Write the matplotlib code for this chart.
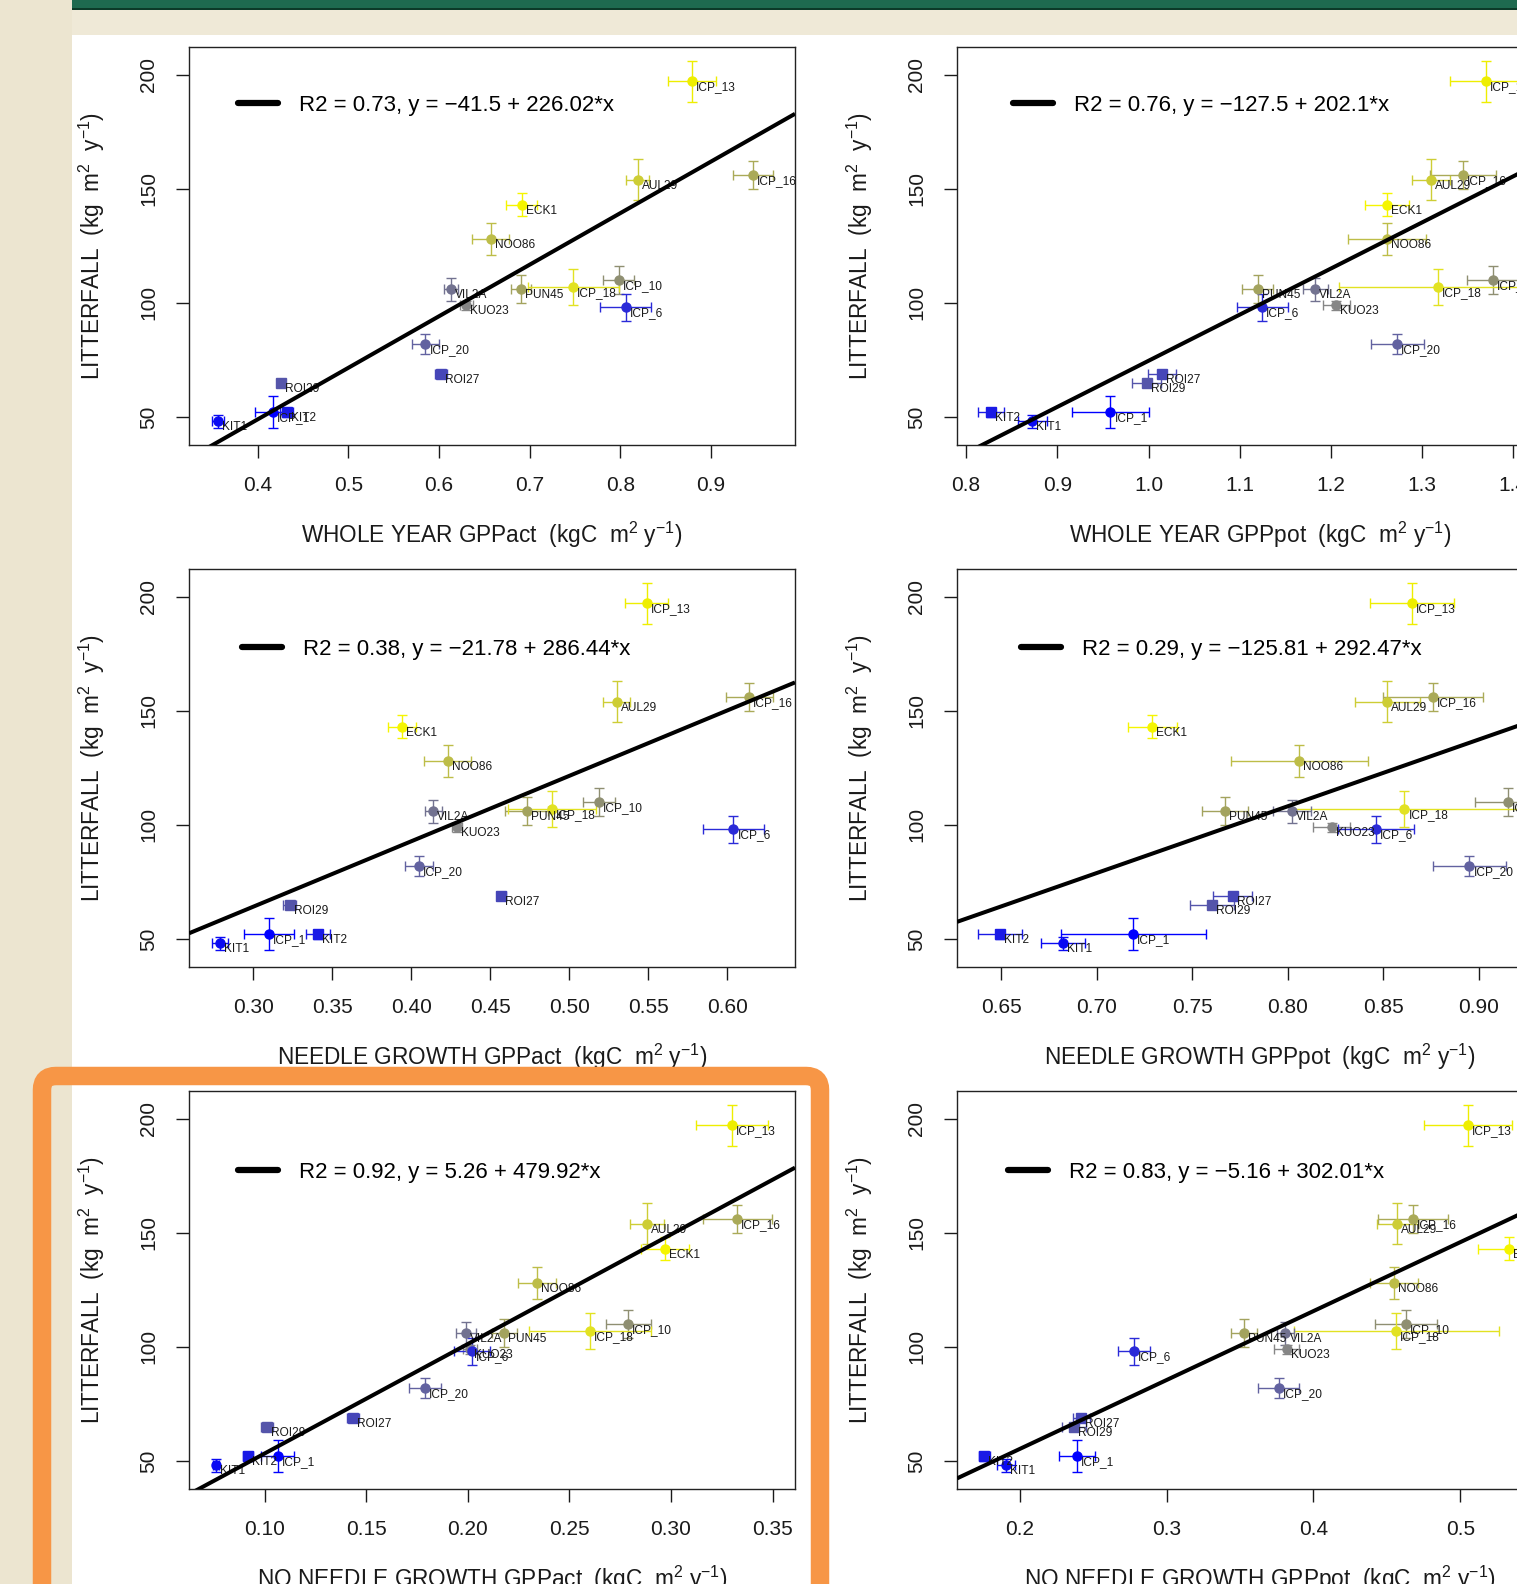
import numpy as np
import matplotlib
matplotlib.use("Agg")
import matplotlib.pyplot as plt
from matplotlib.patches import Rectangle, FancyBboxPatch
from matplotlib.lines import Line2D
from matplotlib.transforms import IdentityTransform

plt.rcParams['font.family'] = ['Liberation Sans', 'DejaVu Sans']
plt.rcParams['mathtext.fontset'] = 'custom'
plt.rcParams['mathtext.rm'] = 'Liberation Sans'
plt.rcParams['mathtext.it'] = 'Liberation Sans:italic'
plt.rcParams['mathtext.bf'] = 'Liberation Sans:bold'

# sites and litterfall (same in every panel)
sites = ['ICP_13', 'AUL29', 'ICP_16', 'ECK1', 'NOO86', 'ICP_10', 'PUN45', 'ICP_18', 'VIL2A',
         'KUO23', 'ICP_6', 'ICP_20', 'ROI29', 'ROI27', 'ICP_1', 'KIT2', 'KIT1']
litter = [197, 154, 156, 143, 128, 110, 106, 107, 106, 99, 98, 82, 65, 69, 52, 52, 48]
litter_err = [9, 9, 6, 5, 7, 6, 6, 8, 5, 2, 6, 4.5, 1, 1.5, 7, 2, 3]
site_colors = ['#EEEE00', '#CDCD35', '#AAAA58', '#F5F500', '#BDBD48', '#8F8F72', '#A3A35E',
               '#E2E222', '#727290', '#868686', '#2A2AD8', '#6262A0', '#5555AA', '#4646B8',
               '#0000FF', '#1A1AE6', '#0A0AF2']
site_markers = ['o', 'o', 'o', 'o', 'o', 'o', 'o', 'o', 'o', 'o', 'o', 'o', 's', 's', 'o', 's', 'o']

# x values per panel
x_whole_act = [0.879, 0.819, 0.946, 0.691, 0.657, 0.798, 0.690, 0.748, 0.613, 0.630, 0.806, 0.585,
               0.426, 0.602, 0.417, 0.432, 0.356]
xe_whole_act = [0.026, 0.013, 0.022, 0.0166, 0.0205, 0.017, 0.011, 0.050, 0.0078, 0.007, 0.028, 0.015,
                0.002, 0.0065, 0.0196, 0.0076, 0.0065]
x_whole_pot = [1.370, 1.310, 1.3445, 1.2614, 1.2614, 1.3775, 1.120, 1.3175, 1.183, 1.206, 1.1248, 1.2727,
               0.998, 1.0147, 0.9583, 0.8273, 0.8724]
xe_whole_pot = [0.039, 0.021, 0.036, 0.024, 0.043, 0.028, 0.017, 0.109, 0.014, 0.015, 0.028, 0.029,
                0.016, 0.015, 0.042, 0.014, 0.016]
x_needle_act = [0.549, 0.530, 0.614, 0.394, 0.423, 0.519, 0.473, 0.489, 0.414, 0.429, 0.604, 0.405,
                0.323, 0.457, 0.310, 0.341, 0.279]
xe_needle_act = [0.0135, 0.0085, 0.015, 0.009, 0.015, 0.010, 0.0135, 0.028, 0.0055, 0.003, 0.0195, 0.009,
                 0.004, 0.003, 0.016, 0.0075, 0.005]
x_needle_pot = [0.865, 0.852, 0.876, 0.729, 0.806, 0.915, 0.767, 0.861, 0.802, 0.823, 0.846, 0.895,
                0.760, 0.771, 0.719, 0.649, 0.682]
xe_needle_pot = [0.022, 0.017, 0.026, 0.013, 0.036, 0.017, 0.012, 0.060, 0.010, 0.0097, 0.020, 0.019,
                 0.0115, 0.010, 0.038, 0.0115, 0.0115]
x_noneedle_act = [0.330, 0.288, 0.3325, 0.297, 0.234, 0.279, 0.218, 0.260, 0.199, 0.201, 0.202, 0.179,
                  0.101, 0.1435, 0.1064, 0.092, 0.076]
xe_noneedle_act = [0.0175, 0.0083, 0.017, 0.012, 0.0093, 0.011, 0.0063, 0.030, 0.005, 0.0035, 0.009, 0.0078,
                   0.003, 0.003, 0.008, 0.0025, 0.0015]
x_noneedle_pot = [0.505, 0.457, 0.468, 0.533, 0.455, 0.463, 0.3526, 0.4565, 0.381, 0.382, 0.278, 0.3765,
                  0.237, 0.242, 0.239, 0.176, 0.1905]
xe_noneedle_pot = [0.030, 0.014, 0.024, 0.021, 0.0165, 0.021, 0.009, 0.070, 0.006, 0.0085, 0.011, 0.014,
                   0.008, 0.006, 0.0125, 0.004, 0.006]

# regressions
r2 = ['0.73', '0.76', '0.38', '0.29', '0.92', '0.83']
intercepts = [-41.5, -127.5, -21.78, -125.81, 5.26, -5.16]
slopes = [226.02, 202.1, 286.44, 292.47, 479.92, 302.01]

xlabels = ['WHOLE YEAR GPPact', 'WHOLE YEAR GPPpot', 'NEEDLE GROWTH GPPact',
           'NEEDLE GROWTH GPPpot', 'NO NEEDLE GROWTH GPPact', 'NO NEEDLE GROWTH GPPpot']
xticks = [[0.4, 0.5, 0.6, 0.7, 0.8, 0.9],
          [0.8, 0.9, 1.0, 1.1, 1.2, 1.3, 1.4],
          [0.30, 0.35, 0.40, 0.45, 0.50, 0.55, 0.60],
          [0.65, 0.70, 0.75, 0.80, 0.85, 0.90],
          [0.10, 0.15, 0.20, 0.25, 0.30, 0.35],
          [0.2, 0.3, 0.4, 0.5]]
xfmt = ['{:.1f}', '{:.1f}', '{:.2f}', '{:.2f}', '{:.2f}', '{:.1f}']
xlims = [(0.3244, 0.9925), (0.790, 1.4545), (0.2592, 0.643),
         (0.6267, 0.944), (0.0628, 0.361), (0.1573, 0.570)]
xs_all = [x_whole_act, x_whole_pot, x_needle_act, x_needle_pot, x_noneedle_act, x_noneedle_pot]
xe_all = [xe_whole_act, xe_whole_pot, xe_needle_act, xe_needle_pot, xe_noneedle_act, xe_noneedle_pot]
leg_pos = [(0.081, 0.854), (0.093, 0.854), (0.088, 0.798), (0.106, 0.798), (0.081, 0.795), (0.084, 0.795)]

W, H = 1517, 1584
fig = plt.figure(figsize=(W / 100, H / 100), dpi=100)
fig.patch.set_facecolor('#EFE9D7')


def px_rect(x0, y0, x1, y1, color, z=-10):
    r = Rectangle((x0 / W, 1 - y1 / H), (x1 - x0) / W, (y1 - y0) / H,
                  transform=fig.transFigure, facecolor=color, edgecolor='none', zorder=z)
    fig.add_artist(r)


# slide background
px_rect(0, 0, 72, H, '#ECE5D0')
px_rect(72, 0, W, 10, '#1E6A4F')
px_rect(72, 8, W, 10, '#0C3A28')
px_rect(72, 35, W, H, 'white')

col_x = [189, 957]
row_y = [47, 569, 1091]
aw, ah = 606, 398

for k in range(6):
    x0 = col_x[k % 2]
    y0 = row_y[k // 2]
    ax = fig.add_axes([x0 / W, 1 - (y0 + ah) / H, aw / W, ah / H])
    ax.set_facecolor('white')
    xs = xs_all[k]
    xe = xe_all[k]
    for i in range(len(sites)):
        ax.errorbar(xs[i], litter[i], xerr=xe[i], yerr=litter_err[i], fmt=site_markers[i],
                    color=site_colors[i], ms=6.5, capsize=3.3, elinewidth=1.0, capthick=1.0,
                    zorder=2)
        ax.annotate(sites[i], (xs[i], litter[i]), xytext=(4, -6), textcoords='offset pixels',
                    fontsize=8.6, ha='left', va='center', color='#1a1a1a', zorder=3, clip_on=True)
    ax.set_xlim(*xlims[k])
    ax.set_ylim(37.7, 212.1)
    lx = np.array(xlims[k])
    ax.plot(lx, intercepts[k] + slopes[k] * lx, color='black', lw=2.9, zorder=4,
            solid_capstyle='butt')

    def fnum(v):
        return ('{:g}'.format(v)).replace('-', '\u2212')

    label = 'R2 = {}, y = {} + {}*x'.format(r2[k], fnum(intercepts[k]), fnum(slopes[k]))
    handle = Line2D([], [], color='black', lw=4.5, solid_capstyle='round')
    ax.legend([handle], [label], loc='center left', bbox_to_anchor=leg_pos[k], frameon=False,
              fontsize=16, handlelength=1.8, handletextpad=0.95, borderpad=0, borderaxespad=0)

    ax.set_xticks(xticks[k])
    ax.set_xticklabels([xfmt[k].format(t) for t in xticks[k]])
    ax.set_yticks([50, 100, 150, 200])
    ax.set_yticklabels(['50', '100', '150', '200'], rotation=90, va='center')
    ax.tick_params(direction='out', length=9.4, width=1.0, labelsize=15, colors='#1a1a1a')
    ax.tick_params(axis='x', pad=13)
    ax.tick_params(axis='y', pad=13)
    for s in ax.spines.values():
        s.set_linewidth(1.0)
        s.set_color('#222222')

    ax.set_xlabel(xlabels[k] + r'  (kgC  m$^2$ y$^{-1}$)', fontsize=16.3, color='#1a1a1a')
    ax.xaxis.set_label_coords(0.5, -0.225)
    ax.xaxis.label.set_va('center')
    ax.set_ylabel(r'LITTERFALL  (kg  m$^2$  y$^{-1}$)', fontsize=16.3, color='#1a1a1a')
    ax.yaxis.set_label_coords(-0.160, 0.5)
    ax.yaxis.label.set_va('center')

# orange highlight frame
frame = FancyBboxPatch((42, H - 1640), 820 - 42, 1640 - 1076,
                       boxstyle='round,pad=0,rounding_size=14', transform=IdentityTransform(),
                       facecolor='none', edgecolor='#F79646', lw=13.3, zorder=20)
fig.add_artist(frame)

fig.savefig('out.png', dpi=100, facecolor=fig.get_facecolor())
